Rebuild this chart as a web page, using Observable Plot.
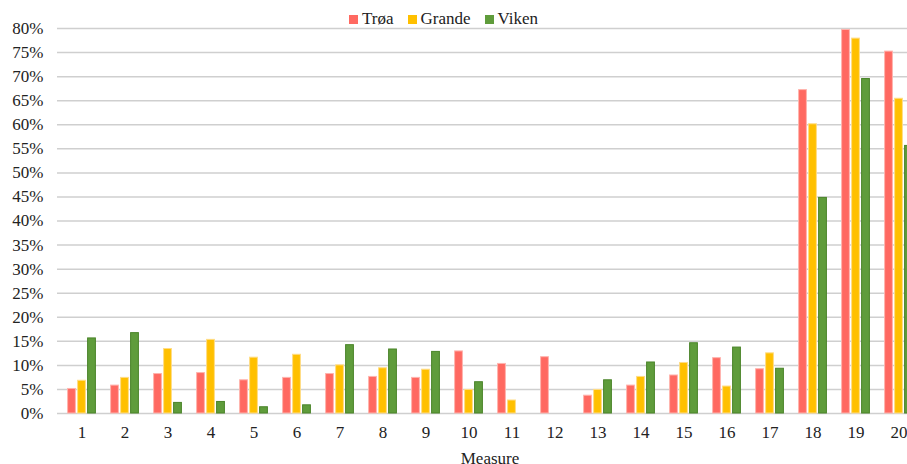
<!DOCTYPE html>
<html>
<head>
<meta charset="utf-8">
<script src="https://cdn.jsdelivr.net/npm/d3@7"></script>
<script src="https://cdn.jsdelivr.net/npm/@observablehq/plot@0.6"></script>
<style>
html, body { margin: 0; padding: 0; background: #fff; overflow: hidden; }
#wrap { position: relative; width: 907px; height: 464px; overflow: hidden; }
#legend { position: absolute; top: 9px; left: 349px; display: flex; align-items: center;
  font-family: "Liberation Serif", "Times New Roman", serif; font-size: 17px; color: #222; line-height: 20px; }
#legend .item { display: flex; align-items: center; margin-right: 14px; }
#legend .sw { width: 9px; height: 9px; margin-right: 4px; }
#chart { position: absolute; top: 0; left: 0; width: 922px; }
#chart svg { max-width: none !important; }
</style>
</head>
<body>
<div id="wrap">
  <div id="chart"></div>
  <div id="legend"></div>
</div>
<script>
const measures = ["1","2","3","4","5","6","7","8","9","10","11","12","13","14","15","16","17","18","19","20"];
const seriesNames = ["Trøa", "Grande", "Viken"];
const troa   = [5.1, 5.8, 8.2, 8.4, 6.9, 7.4, 8.2, 7.6, 7.4, 12.9, 10.3, 11.7, 3.7, 5.8, 7.9, 11.5, 9.2, 67.2, 79.7, 75.2];
const grande = [6.8, 7.4, 13.4, 15.3, 11.6, 12.2, 10.0, 9.4, 9.1, 4.9, 2.7, 0, 4.9, 7.6, 10.5, 5.6, 12.5, 60.1, 77.9, 65.4];
const viken  = [15.6, 16.7, 2.2, 2.4, 1.3, 1.7, 14.2, 13.3, 12.8, 6.5, 0, 0, 6.9, 10.6, 14.6, 13.7, 9.3, 44.8, 69.5, 55.6];
const yTicks = [0, 5, 10, 15, 20, 25, 30, 35, 40, 45, 50, 55, 60, 65, 70, 75, 80];

const colors = ["#ff6961", "#ffc000", "#5f9c3b"];
const strokes = ["#ffb3ad", "#ffdc85", "#4a8429"];
const offsets = [-10, 0, 10];

const rows = (vals) => measures.map((m, i) => ({measure: m, value: vals[i]})).filter(d => d.value > 0);
const allSeries = [troa, grande, viken];

const barMarks = allSeries.map((vals, k) => Plot.barY(rows(vals), {
  x: "measure", y: "value", fill: colors[k], stroke: strokes[k], strokeWidth: 1,
  insetLeft: 17.6, insetRight: 17.6, dx: offsets[k]
}));

const chart = Plot.plot({
  width: 922,
  height: 464,
  marginLeft: 57,
  marginRight: 0,
  marginTop: 28,
  marginBottom: 51,
  style: { fontFamily: "'Liberation Serif', 'Times New Roman', serif", fontSize: "17px", color: "#222", background: "#fff", maxWidth: "none" },
  x: { domain: measures, paddingInner: 0, paddingOuter: 0, label: null },
  y: { domain: [0, 80], label: null },
  marks: [
    Plot.gridY(yTicks, { stroke: "#cfcfcf", strokeOpacity: 1, strokeWidth: 1.5 }),
    ...barMarks,
    Plot.axisY(yTicks, { tickSize: 0, tickPadding: 14, tickFormat: d => d + "%", label: null, fontSize: 17 }),
    Plot.axisX({ tickSize: 0, tickPadding: 12, label: "Measure", labelAnchor: "center", labelOffset: 50, labelArrow: "none", fontSize: 17 })
  ]
});
chart.style.maxWidth = "none";
document.getElementById("chart").appendChild(chart);

const legend = document.getElementById("legend");
seriesNames.forEach((name, k) => {
  const item = document.createElement("div");
  item.className = "item";
  const sw = document.createElement("div");
  sw.className = "sw";
  sw.style.background = colors[k];
  const t = document.createElement("span");
  t.textContent = name;
  item.appendChild(sw);
  item.appendChild(t);
  legend.appendChild(item);
});
</script>
</body>
</html>
